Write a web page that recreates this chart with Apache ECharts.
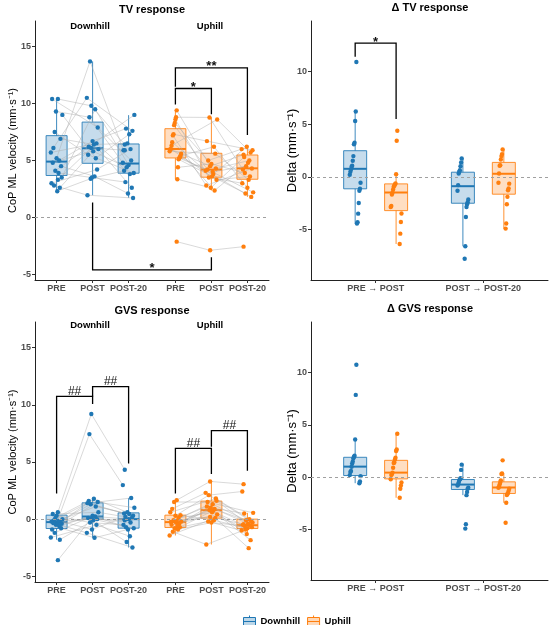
<!DOCTYPE html>
<html>
<head>
<meta charset="utf-8">
<script src="https://cdn.jsdelivr.net/npm/echarts@6/dist/echarts.min.js"></script>
<style>
  html, body { margin: 0; padding: 0; background: #fff; }
  #main { width: 550px; height: 625px; }
</style>
</head>
<body>
<div id="main"></div>
<script>
// categories
var stages = ['PRE', 'POST', 'POST-20'];
var deltaStages = ['PRE \u2192 POST', 'POST \u2192 POST-20'];
var groups = ['Downhill', 'Uphill'];

// TV response, one value per subject (same index = same subject)
var tvDownPre    = [10.4, 2.3, 5.2, 9.3, 4.1, 7.5, 2.8, 6.1, 4.8, 10.4, 3.0, 5.7, 9.0, 3.5, 4.5, 6.9, 2.6, 5.0, 3.9, 3.3];
var tvDownPost   = [9.8, 3.4, 13.7, 8.8, 6.2, 5.5, 1.95, 10.5, 6.0, 7.9, 4.2, 6.5, 5.2, 9.5, 3.6, 6.4, 5.8, 6.7, 3.5, 6.1];
var tvDownPost20 = [6.4, 4.1, 5.9, 4.8, 9.0, 3.9, 1.7, 7.6, 2.6, 5.0, 6.0, 3.8, 7.3, 4.6, 2.1, 6.5, 4.4, 7.8, 3.1, 5.9];
var tvUpPre      = [9.4, 8.8, 8.6, 8.3, 8.1, 7.3, 7.2, 6.6, 6.3, 6.0, 6.0, 5.8, 5.6, 5.4, 5.3, 5.2, 5.1, 4.4, 3.35, -2.13];
var tvUpPost     = [4.5, 8.78, 3.5, 5.0, 4.2, 6.7, 2.8, 4.1, 8.6, 3.3, 4.3, 5.6, 2.36, 6.2, 3.8, 4.0, 3.6, 4.7, 2.6, -2.89];
var tvUpPost20   = [5.5, 4.2, 3.0, 6.0, 2.2, 5.9, 4.3, 1.8, 5.7, 3.6, 5.0, 3.3, 4.8, 2.6, 6.2, 4.5, 2.1, 3.9, 5.3, -2.57];

// GVS response
var gvsDownPre    = [0.6, -0.3, 0.3, -0.5, 0.1, -1.2, -0.1, -0.35, 0.45, -0.9, -0.2, -1.6, 0.0, -0.4, -0.8, -0.25, -1.8, -0.6, -0.15, -3.59];
var gvsDownPost   = [9.2, 1.3, -0.3, 7.44, 1.6, 0.1, 1.4, -1.2, 0.6, 1.5, 0.0, -0.5, 1.1, 0.23, -1.63, 1.78, -0.1, 0.3, -0.9, 0.05];
var gvsDownPost20 = [4.32, 0.5, -0.5, 2.98, 1.0, -0.8, 0.3, -2.48, 0.1, 1.85, -0.3, -1.5, 0.45, 0.0, -0.9, 0.6, -2.0, -0.7, 0.2, -0.1];
var gvsUpPre      = [1.66, -0.3, 0.3, -0.8, 1.5, -0.1, -1.1, 0.9, -0.5, -0.25, 0.6, -1.43, -0.2, 0.35, -0.7, -0.4, 0.1, -0.9, -0.6, -0.15];
var gvsUpPost     = [3.3, 0.8, 2.1, -0.2, 1.5, 1.1, -2.22, 2.3, 0.4, 1.6, 1.8, 0.1, 0.9, -0.1, 0.75, 1.3, 0.6, -0.3, 1.0, 0.2];
var gvsUpPost20   = [3.06, -0.5, 2.42, -1.0, 0.55, -0.3, -0.7, -0.2, -1.84, -0.55, 0.0, -2.54, -0.4, -0.8, -1.31, -0.1, -0.9, -0.6, 0.5, -0.45];

// delta values
var dTvDownA = [10.9, 6.2, 5.3, 3.24, 3.1, 1.97, 1.52, 1.05, 0.95, 0.7, 0.48, 0.2, -0.57, -1.14, -1.33, -2.48, -3.5, -4.32, -4.44];
var dTvUpA   = [4.38, 3.43, 0.25, -0.63, -0.73, -0.85, -0.95, -1.2, -1.49, -1.68, -2.76, -2.86, -3.49, -4.29, -5.4, -6.38];
var dTvDownB = [1.75, 1.37, 1.0, 0.63, 0.48, 0.32, -0.79, -1.33, -2.16, -2.41, -2.6, -2.86, -3.81, -6.6, -7.78];
var dTvUpB   = [2.6, 2.16, 1.97, 1.65, 1.11, 1.05, 0.32, -0.57, -0.65, -1.1, -1.27, -1.9, -2.6, -4.44, -4.92];
var dGvsDownA = [10.73, 7.85, 3.6, 2.05, 1.95, 1.8, 1.5, 1.3, 1.0, 0.6, 0.5, 0.2, 0.1, -0.4, -0.57];
var dGvsUpA   = [4.15, 2.65, 2.5, 1.85, 1.7, 1.4, 1.35, 0.9, 0.44, 0.3, 0.2, -0.2, -0.5, -0.8, -1.1, -1.96];
var dGvsDownB = [1.2, 0.7, -0.1, -0.2, -0.3, -0.5, -0.7, -0.8, -1.0, -1.1, -1.4, -1.71, -4.49, -4.9];
var dGvsUpB   = [1.61, 0.35, 0.3, -0.3, -0.5, -0.7, -0.9, -1.0, -1.1, -1.3, -1.5, -1.6, -1.7, -2.44, -4.34];

// box stats: [lower whisker, Q1, median, Q3, upper whisker]
var tvDownBox  = [[2.28, 3.68, 4.9, 7.18, 10.42], [1.95, 4.75, 6.07, 8.37, 13.69], [1.72, 3.88, 4.73, 6.45, 8.98]];
var tvUpBox    = [[3.35, 5.22, 6.01, 7.79, 9.37], [2.36, 3.53, 4.2, 5.63, 8.78], [1.8, 3.35, 4.31, 5.48, 6.2]];
var gvsDownBox = [[-1.8, -0.82, -0.26, 0.35, 0.64], [-1.63, 0, 0.23, 1.43, 1.78], [-2.48, -0.79, 0, 0.55, 1.85]];
var gvsUpBox   = [[-1.43, -0.73, -0.26, 0.35, 1.66], [-2.22, 0.09, 0.79, 1.58, 3.3], [-1.31, -0.82, -0.53, 0, 0.55]];
var dTvDownBox  = [[-4.44, -1.14, 0.76, 2.48, 6.19], [-6.6, -2.51, -0.89, 0.44, 1.75]];
var dTvUpBox    = [[-6.38, -3.21, -1.49, -0.67, 0.25], [-4.92, -1.65, 0.29, 1.37, 2.6]];
var dGvsDownBox = [[-0.57, 0.16, 1.01, 1.9, 3.6], [-1.71, -1.17, -0.7, -0.22, 1.2]];
var dGvsUpBox   = [[-1.96, -0.16, 0.44, 1.61, 4.15], [-2.44, -1.55, -0.98, -0.44, 0.35]];

// significance brackets: [x1, x2, left leg end, right leg end, bar]
var tvBrackets   = [[3.3, 5.3, 11.47, 7.24, 13.13], [3.3, 4.3, 9.92, 9.05, 11.32], [1, 4.3, 1.31, -3.5, -4.61]];
var tvBracketLabels = ['**', '*', '*'];
var dTvBrackets  = [[-0.19, 0.19, 11.4, 5.5, 12.7]];
var dTvBracketLabels = ['*'];
var gvsBrackets  = [[0, 1, 2.25, 10.07, 10.74], [1, 2, 10.74, 4.87, 11.59], [3.3, 4.3, 2.25, 3.94, 6.19], [4.3, 5.3, 6.33, 4.23, 7.74]];
var gvsBracketLabels = ['##', '##', '##', '##'];

var FONT = 'Liberation Sans, Arial, sans-serif';
var BLUE = '#1f77b4', ORANGE = '#ff7f0e';
var BLUE_FILL = 'rgba(31,119,180,0.3)', ORANGE_FILL = 'rgba(255,127,14,0.3)';

// x positions on the value axes
var facetPos = { Downhill: [0, 1, 2], Uphill: [3.3, 4.3, 5.3] };
var dodgePos = { Downhill: [-0.19, 0.81], Uphill: [0.19, 1.19] };

function jit(i, k, w) {
  var r = ((i * 37 + k * 53 + 11) % 19) / 18 - 0.5;
  return r * 2 * w;
}

function boxSeries(name, g, pos, stats, color, fill, bw) {
  return {
    type: 'custom', name: name, xAxisIndex: g, yAxisIndex: g, z: 2, silent: true,
    data: pos.map(function (x, i) { return [x].concat(stats[i]); }),
    encode: { x: 0, y: [1, 2, 3, 4, 5] },
    renderItem: function (params, api) {
      var x = api.value(0);
      var lo = api.coord([x, api.value(1)]);
      var q1 = api.coord([x, api.value(2)]);
      var md = api.coord([x, api.value(3)]);
      var q3 = api.coord([x, api.value(4)]);
      var hi = api.coord([x, api.value(5)]);
      var h = bw / 2;
      var st = { stroke: color, lineWidth: 1, opacity: 0.85 };
      return { type: 'group', children: [
        { type: 'line', shape: { x1: lo[0], y1: lo[1], x2: q1[0], y2: q1[1] }, style: st },
        { type: 'line', shape: { x1: q3[0], y1: q3[1], x2: hi[0], y2: hi[1] }, style: st },
        { type: 'rect', shape: { x: q3[0] - h, y: q3[1], width: bw, height: q1[1] - q3[1] },
          style: { fill: fill, stroke: color, lineWidth: 1, opacity: 0.85 } },
        { type: 'line', shape: { x1: md[0] - h, y1: md[1], x2: md[0] + h, y2: md[1] },
          style: { stroke: color, lineWidth: 2 } }
      ] };
    }
  };
}

function pointSeries(name, g, data, color) {
  return {
    type: 'scatter', name: name, xAxisIndex: g, yAxisIndex: g, z: 4, silent: true,
    symbolSize: 4.4, itemStyle: { color: color, opacity: 1 }, data: data
  };
}

function facetSeries(g, group, arrays, stats, color, fill) {
  var xs = facetPos[group];
  var lines = arrays[0].map(function (_, i) {
    return [xs[0] + jit(i, 0, 0.16), arrays[0][i], xs[1] + jit(i, 1, 0.16), arrays[1][i], xs[2] + jit(i, 2, 0.16), arrays[2][i]];
  });
  var pts = [];
  lines.forEach(function (l) { pts.push([l[0], l[1]], [l[2], l[3]], [l[4], l[5]]); });
  return [
    boxSeries(group, g, xs, stats, color, fill, 21),
    {
      type: 'custom', name: group, xAxisIndex: g, yAxisIndex: g, z: 3, silent: true,
      data: lines, encode: { x: [0, 2, 4], y: [1, 3, 5] },
      renderItem: function (params, api) {
        var p = [0, 1, 2].map(function (k) { return api.coord([api.value(2 * k), api.value(2 * k + 1)]); });
        return { type: 'polyline', shape: { points: p }, style: { stroke: '#aaaaaa', lineWidth: 0.6, fill: 'none', opacity: 0.75 } };
      }
    },
    pointSeries(group, g, pts, color)
  ];
}

function deltaSeries(g, group, arrays, stats, color, fill) {
  var xs = dodgePos[group];
  var pts = [];
  arrays.forEach(function (arr, k) {
    arr.forEach(function (v, i) { pts.push([xs[k] + jit(i, k, 0.05), v]); });
  });
  return [boxSeries(group, g, xs, stats, color, fill, 23), pointSeries(group, g, pts, color)];
}

function bracketSeries(g, rows, labels) {
  return {
    type: 'custom', xAxisIndex: g, yAxisIndex: g, z: 5, silent: true,
    data: rows, encode: { x: [0, 1], y: [2, 3, 4] },
    renderItem: function (params, api) {
      var x1 = api.value(0), x2 = api.value(1), top = api.value(4);
      var p = [api.coord([x1, api.value(2)]), api.coord([x1, top]), api.coord([x2, top]), api.coord([x2, api.value(3)])];
      var lab = labels[params.dataIndex];
      var mid = api.coord([(x1 + x2) / 2, top]);
      var star = lab.indexOf('*') >= 0;
      return { type: 'group', children: [
        { type: 'polyline', shape: { points: p }, style: { stroke: '#000', lineWidth: 1.3, fill: 'none' } },
        { type: 'text', x: mid[0], y: star ? mid[1] - 1 : mid[1] + 1,
          style: { text: lab, fill: '#111', align: 'center', verticalAlign: star ? 'middle' : 'bottom',
                   font: (star ? 'bold 13px ' : '12px ') + FONT } }
      ] };
    }
  };
}

function zeroLine(g) {
  return {
    type: 'scatter', xAxisIndex: g, yAxisIndex: g, data: [], silent: true, z: 1,
    markLine: { silent: true, symbol: 'none', label: { show: false }, animation: false,
      lineStyle: { type: [3, 3], color: '#a0a0a0', width: 1, opacity: 1 }, data: [{ yAxis: 0 }] }
  };
}

var axisLabelStyle = { color: '#4d4d4d', fontWeight: 'bold', fontSize: 9, fontFamily: FONT };

function xAxisFacet(g) {
  return {
    type: 'value', gridIndex: g, min: -0.6, max: 5.9,
    splitLine: { show: false },
    axisLine: { show: true, onZero: false, lineStyle: { color: '#222', width: 1 } },
    axisTick: { show: true, length: 3, customValues: [0, 1, 2, 3.3, 4.3, 5.3], lineStyle: { color: '#333' } },
    axisLabel: Object.assign({ margin: 4, customValues: [0, 1, 2, 3.3, 4.3, 5.3],
      formatter: function (v) { return stages[Math.round(v) % 3]; } }, axisLabelStyle)
  };
}
function xAxisDelta(g) {
  return {
    type: 'value', gridIndex: g, min: -0.6, max: 1.6,
    splitLine: { show: false },
    axisLine: { show: true, onZero: false, lineStyle: { color: '#222', width: 1 } },
    axisTick: { show: true, length: 3, customValues: [0, 1], lineStyle: { color: '#333' } },
    axisLabel: Object.assign({ margin: 4, customValues: [0, 1],
      formatter: function (v) { return deltaStages[Math.round(v)]; } }, axisLabelStyle)
  };
}
function yAxisOf(g, min, max, ticks, name, nameSize, gap) {
  return {
    type: 'value', gridIndex: g, min: min, max: max,
    name: name, nameLocation: 'middle', nameGap: gap, nameRotate: 90, nameMoveOverlap: false,
    nameTextStyle: { fontSize: nameSize, color: '#000', fontFamily: FONT },
    splitLine: { show: false },
    axisLine: { show: true, onZero: false, lineStyle: { color: '#222', width: 1 } },
    axisTick: { show: true, length: 3, customValues: ticks, lineStyle: { color: '#333' } },
    axisLabel: Object.assign({ margin: 4, customValues: ticks }, axisLabelStyle)
  };
}

var yName = 'CoP ML velocity (mm\u00b7s\u207b\u00b9)';
var dName = 'Delta (mm\u00b7s\u207b\u00b9)';

var series = [zeroLine(0), zeroLine(1), zeroLine(2), zeroLine(3)]
  .concat(facetSeries(0, 'Downhill', [tvDownPre, tvDownPost, tvDownPost20], tvDownBox, BLUE, BLUE_FILL))
  .concat(facetSeries(0, 'Uphill', [tvUpPre, tvUpPost, tvUpPost20], tvUpBox, ORANGE, ORANGE_FILL))
  .concat(facetSeries(2, 'Downhill', [gvsDownPre, gvsDownPost, gvsDownPost20], gvsDownBox, BLUE, BLUE_FILL))
  .concat(facetSeries(2, 'Uphill', [gvsUpPre, gvsUpPost, gvsUpPost20], gvsUpBox, ORANGE, ORANGE_FILL))
  .concat(deltaSeries(1, 'Downhill', [dTvDownA, dTvDownB], dTvDownBox, BLUE, BLUE_FILL))
  .concat(deltaSeries(1, 'Uphill', [dTvUpA, dTvUpB], dTvUpBox, ORANGE, ORANGE_FILL))
  .concat(deltaSeries(3, 'Downhill', [dGvsDownA, dGvsDownB], dGvsDownBox, BLUE, BLUE_FILL))
  .concat(deltaSeries(3, 'Uphill', [dGvsUpA, dGvsUpB], dGvsUpBox, ORANGE, ORANGE_FILL))
  .concat([bracketSeries(0, tvBrackets, tvBracketLabels), bracketSeries(1, dTvBrackets, dTvBracketLabels),
           bracketSeries(2, gvsBrackets, gvsBracketLabels)]);

function label(x, y, text, size) {
  return { type: 'text', x: x, y: y, silent: true,
    style: { text: text, fill: '#000', align: 'center', verticalAlign: 'middle', font: 'bold ' + size + 'px ' + FONT } };
}

var legendIcon = 'path://M0,2L12,2L12,10L0,10Z M6,0L6,2 M6,10L6,12 M0,6L12,6';

var chart = echarts.init(document.getElementById('main'));
chart.setOption({
  animation: false,
  backgroundColor: '#fff',
  textStyle: { fontFamily: FONT },
  grid: [
    { left: 35, top: 21, width: 234, height: 259 },
    { left: 311, top: 21, width: 237, height: 259 },
    { left: 35, top: 322, width: 234, height: 260 },
    { left: 311, top: 322, width: 237, height: 258 }
  ],
  xAxis: [xAxisFacet(0), xAxisDelta(1), xAxisFacet(2), xAxisDelta(3)],
  yAxis: [
    yAxisOf(0, -5.5, 17.25, [-5, 0, 5, 10, 15], yName, 11, 16.5),
    yAxisOf(1, -9.8, 14.8, [-5, 0, 5, 10], dName, 13, 12.5),
    yAxisOf(2, -5.5, 17.25, [-5, 0, 5, 10, 15], yName, 11, 16.5),
    yAxisOf(3, -9.8, 14.8, [-5, 0, 5, 10], dName, 13, 12.5)
  ],
  legend: {
    left: 238, top: 610, itemWidth: 12, itemHeight: 12, itemGap: 7, selectedMode: false,
    textStyle: { fontWeight: 'bold', fontSize: 9.5, color: '#000', fontFamily: FONT },
    data: [
      { name: groups[0], icon: legendIcon, itemStyle: { color: BLUE_FILL, borderColor: BLUE, borderWidth: 1 } },
      { name: groups[1], icon: legendIcon, itemStyle: { color: ORANGE_FILL, borderColor: ORANGE, borderWidth: 1 } }
    ]
  },
  graphic: [
    label(152, 10, 'TV response', 11),
    label(430, 8, '\u0394 TV response', 11),
    label(152, 311, 'GVS response', 11),
    label(430, 309, '\u0394 GVS response', 11),
    label(90, 26, groups[0], 9.5),
    label(210, 26, groups[1], 9.5),
    label(90, 325, groups[0], 9.5),
    label(210, 325, groups[1], 9.5)
  ],
  series: series
});
</script>
</body>
</html>
